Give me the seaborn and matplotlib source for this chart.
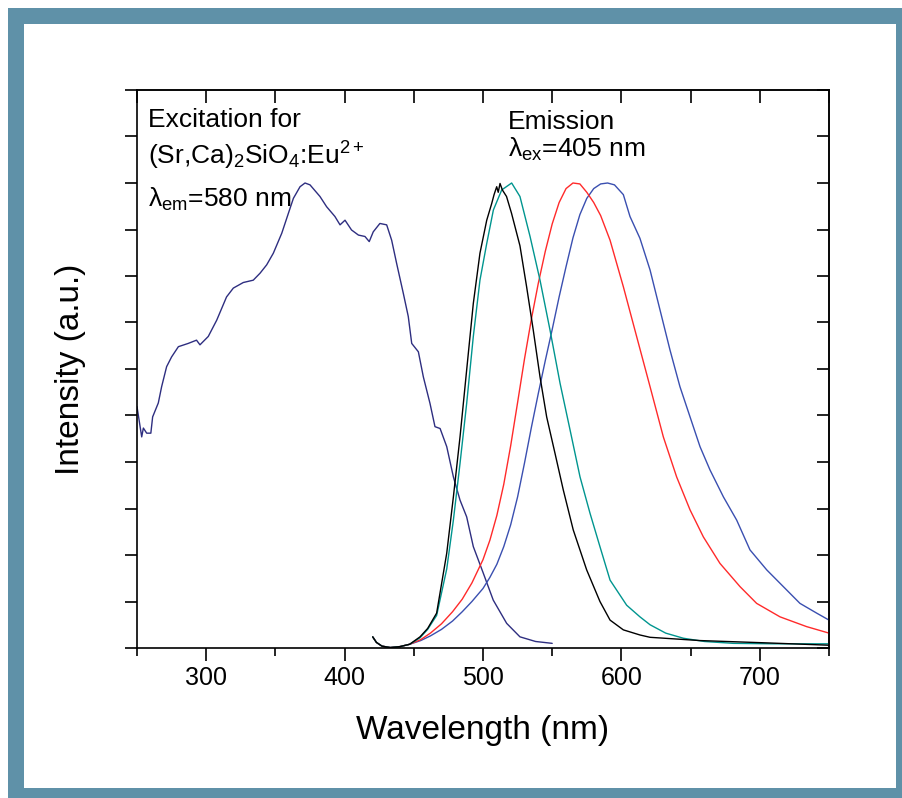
import numpy as np
import pandas as pd
import matplotlib
matplotlib.use('Agg')
import matplotlib.pyplot as plt
from matplotlib.patches import Rectangle
from matplotlib.ticker import MultipleLocator, NullFormatter
import seaborn as sns

# ---------------------------------------------------------------------------
# data (wavelength in nm, normalised intensity)
# ---------------------------------------------------------------------------
exc_wl = [250, 253.4, 254.6, 257, 260, 261.3, 265.4, 267.8, 271.4, 275, 279.9,
          287, 293, 295.5, 301.5, 307.6, 314.7, 319.6, 326.8, 334, 338.9, 343.7,
          348.5, 354.6, 359.4, 363, 367.8, 371.4, 375, 382.2, 387, 393, 396.7,
          400.3, 405, 410, 414.7, 417.8, 420.7, 425.5, 430.4, 434, 437.6, 442.4,
          446, 448.5, 453.3, 456.9, 461.7, 465.3, 469, 473.8, 478.6, 483.4,
          488.2, 493, 500.2, 507.4, 517.1, 526.7, 538, 550]
exc_int = [0.519, 0.454, 0.473, 0.462, 0.462, 0.497, 0.527, 0.562, 0.605, 0.626,
           0.648, 0.655, 0.662, 0.652, 0.670, 0.705, 0.755, 0.774, 0.786, 0.791,
           0.806, 0.824, 0.849, 0.892, 0.935, 0.967, 0.992, 1.0, 0.996, 0.971,
           0.949, 0.928, 0.910, 0.920, 0.899, 0.888, 0.885, 0.874, 0.895, 0.913,
           0.910, 0.877, 0.827, 0.763, 0.713, 0.655, 0.637, 0.583, 0.526, 0.476,
           0.472, 0.433, 0.368, 0.318, 0.282, 0.218, 0.161, 0.103, 0.053, 0.024,
           0.014, 0.010]

# shared onset of the four emission spectra
em_start_wl = [420.3, 423, 427, 433, 440, 447]
em_start_int = [0.024, 0.012, 0.004, 0.001, 0.003, 0.008]

black_wl = em_start_wl + [454.5, 460, 466.5, 473.8, 478.6, 483.4, 488.2, 493,
                          497.8, 502.7, 506.3, 508, 509.9, 511, 512.3, 514,
                          517, 520.6, 526.7, 531.5, 536.3, 541.2, 546, 552, 558,
                          565.2, 574.9, 584.5, 591.8, 601.4, 613.4, 620.7, 656.8,
                          705, 750]
black_int = em_start_int + [0.024, 0.042, 0.075, 0.204, 0.325, 0.454, 0.598,
                            0.741, 0.849, 0.920, 0.956, 0.975, 0.992, 0.980,
                            0.999, 0.985, 0.971, 0.935, 0.865, 0.777, 0.684,
                            0.583, 0.497, 0.419, 0.340, 0.254, 0.168, 0.100,
                            0.060, 0.039, 0.028, 0.023, 0.016, 0.011, 0.006]

teal_wl = em_start_wl + [454.5, 460, 466.5, 473.8, 478.6, 483.4, 488.2, 493,
                         497.8, 502.7, 507.5, 513.5, 520.7, 526.7, 534, 541.2,
                         548.4, 555.7, 562.9, 570.1, 577.3, 584.5, 591.8, 603.8,
                         613.4, 620.7, 632, 644.8, 660, 680.9, 710, 750]
teal_int = em_start_int + [0.022, 0.040, 0.070, 0.170, 0.275, 0.397, 0.526,
                           0.670, 0.791, 0.870, 0.942, 0.985, 1.0, 0.971, 0.885,
                           0.791, 0.684, 0.569, 0.469, 0.368, 0.290, 0.218,
                           0.146, 0.092, 0.067, 0.050, 0.032, 0.021, 0.014,
                           0.010, 0.009, 0.009]

red_wl = em_start_wl + [455, 462, 470, 478, 485, 492, 500, 505, 510, 515, 520,
                        525, 530, 535, 540, 545, 550, 555, 560, 565, 570, 575,
                        580, 585, 591.8, 601.4, 611, 620.7, 630.3, 639.9, 649.6,
                        659.2, 671.2, 685.7, 697.7, 714.6, 733.8, 750]
red_int = em_start_int + [0.018, 0.032, 0.052, 0.078, 0.105, 0.140, 0.190,
                          0.232, 0.285, 0.352, 0.435, 0.528, 0.622, 0.708,
                          0.785, 0.853, 0.912, 0.958, 0.988, 1.0, 0.998, 0.980,
                          0.958, 0.930, 0.877, 0.777, 0.670, 0.562, 0.454, 0.368,
                          0.297, 0.239, 0.182, 0.132, 0.096, 0.067, 0.046, 0.032]

blue_wl = em_start_wl + [455, 462, 470, 478, 485, 492, 500, 505, 510, 515, 520,
                         525, 530, 535, 540, 545, 550, 555, 560, 565, 570, 575,
                         580, 585, 590, 595, 601.4, 606.2, 613.4, 620.7, 627.9,
                         635.1, 642.3, 649.6, 656.8, 664, 673.7, 683.3, 692.9,
                         705, 717, 729, 741.1, 750]
blue_int = em_start_int + [0.016, 0.026, 0.040, 0.058, 0.078, 0.100, 0.128,
                           0.152, 0.180, 0.218, 0.265, 0.325, 0.398, 0.475,
                           0.548, 0.618, 0.685, 0.755, 0.820, 0.882, 0.932,
                           0.967, 0.988, 0.998, 1.0, 0.996, 0.975, 0.928, 0.881,
                           0.813, 0.727, 0.641, 0.562, 0.497, 0.433, 0.383,
                           0.325, 0.275, 0.211, 0.168, 0.132, 0.096, 0.075, 0.060]

curves = [
    (exc_wl, exc_int, '#2e2e80'),
    (blue_wl, blue_int, '#3a4fb0'),
    (red_wl, red_int, '#ff2a2a'),
    (teal_wl, teal_int, '#00958f'),
    (black_wl, black_int, '#000000'),
]

x_ticks = [300, 400, 500, 600, 700]

# ---------------------------------------------------------------------------
# style
# ---------------------------------------------------------------------------
sns.set_style('white')
plt.rcParams['font.family'] = ['Liberation Sans', 'DejaVu Sans']
plt.rcParams['mathtext.fontset'] = 'custom'
plt.rcParams['mathtext.rm'] = 'Liberation Sans'
plt.rcParams['mathtext.it'] = 'Liberation Sans:italic'
plt.rcParams['text.color'] = 'black'
plt.rcParams['axes.labelcolor'] = 'black'
plt.rcParams['xtick.color'] = 'black'
plt.rcParams['ytick.color'] = 'black'

fig = plt.figure(figsize=(9.03, 7.98), dpi=100)
fig.patch.set_facecolor('white')

# framed background
fig.patches.append(Rectangle((8 / 903, -0.1), 1.2, 1.1 - 8 / 798,
                             transform=fig.transFigure, facecolor='#5f91a8',
                             edgecolor='none', zorder=-10))
fig.patches.append(Rectangle((24 / 903, 1 - 788 / 798), (896 - 24) / 903,
                             (788 - 24) / 798, transform=fig.transFigure,
                             facecolor='white', edgecolor='none', zorder=-9))

ax = fig.add_axes([137 / 903, 1 - 648 / 798, (829 - 137) / 903, (648 - 90) / 798])
ax.patch.set_alpha(0)

for wl, inten, col in curves:
    sns.lineplot(x=wl, y=inten, color=col, linewidth=1.0, ax=ax,
                 estimator=None, sort=False)

ax.set_xlim(250, 750)
ax.set_ylim(0, 1.2)

# bottom / left ticks point outward
ax.set_xticks(x_ticks)
ax.xaxis.set_minor_locator(MultipleLocator(50))
ax.yaxis.set_major_locator(MultipleLocator(0.1))
ax.yaxis.set_major_formatter(NullFormatter())
ax.tick_params(axis='x', which='both', bottom=True, top=False)
ax.tick_params(axis='y', which='both', left=True, right=False)
ax.tick_params(axis='x', which='major', direction='out', length=9, width=1.2,
               labelsize=18, pad=4)
ax.tick_params(axis='x', which='minor', direction='out', length=6, width=1.2)
ax.tick_params(axis='y', which='major', direction='out', length=9, width=1.2)

# top / right ticks point inward
top = ax.secondary_xaxis('top')
top.set_xticks(x_ticks)
top.xaxis.set_minor_locator(MultipleLocator(50))
top.xaxis.set_major_formatter(NullFormatter())
top.tick_params(which='both', top=True, direction='in', length=9, width=1.2)
right = ax.secondary_yaxis('right')
right.yaxis.set_major_locator(MultipleLocator(0.1))
right.yaxis.set_major_formatter(NullFormatter())
right.tick_params(which='both', right=True, direction='in', length=9, width=1.2)

for sp in ax.spines.values():
    sp.set_linewidth(1.2)
    sp.set_color('black')
top.spines['top'].set_linewidth(1.2)
right.spines['right'].set_linewidth(1.2)

ax.set_xlabel('Wavelength (nm)', fontsize=24, labelpad=18)
ax.set_ylabel('Intensity (a.u.)', fontsize=24, labelpad=24)

# annotations
ax.text(258, 1.12, 'Excitation for', fontsize=19, va='baseline')
ax.text(258, 1.039, r'(Sr,Ca)$_2$SiO$_4$:Eu$^{2+}$', fontsize=19, va='baseline')
ax.text(258, 0.948, r'λ$_{\mathrm{em}}$=580 nm', fontsize=19, va='baseline')
ax.text(518, 1.116, 'Emission', fontsize=19, va='baseline')
ax.text(518, 1.056, r'λ$_{\mathrm{ex}}$=405 nm', fontsize=19, va='baseline')

fig.savefig('out.png', dpi=100)
